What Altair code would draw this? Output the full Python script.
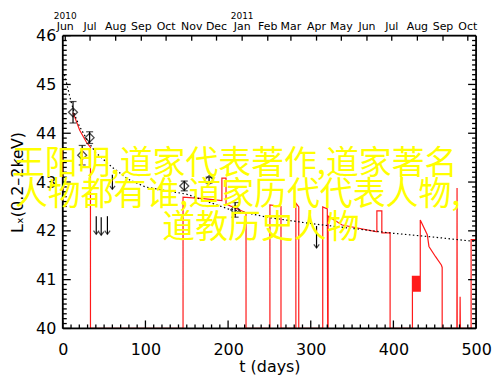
import altair as alt
import pandas as pd

# ---------------- data ----------------
# red light curve (t in days, log L_X); drops to 40 mark data gaps
red_t = [12.4, 14.5, 20.5, 28.5, 33.5, 33.5,
         145.5, 145.5, 170, 192.5, 192.5, 197.5, 197.5, 221.7, 221.7,
         250.6, 250.6, 264, 264,
         282, 282, 285.5, 285.5,
         314.5, 314.5, 320, 320.5, 321, 321, 338, 380, 380, 386, 386, 396, 396,
         423, 423, 423.5, 424, 424.5, 425, 425.5, 426, 426.5, 427, 427.5, 428,
         428.5, 429, 429.5, 430, 430.5, 431, 431.5, 432, 432.5,
         432.5, 441, 443, 451, 458, 459, 459,
         476.8, 477, 477.2,
         480.5, 480.7, 481,
         494, 494, 500]
red_L = [44.42, 44.33, 44.06, 43.82, 43.71, 40.0,
         40.0, 42.69, 42.66, 42.62, 43.08, 43.08, 42.55, 42.37, 40.0,
         40.0, 42.53, 42.50, 40.0,
         40.0, 42.57, 42.49, 40.0,
         40.0, 42.49, 42.45, 40.0, 40.0, 42.30, 42.12, 41.98, 42.41, 42.41, 41.96, 41.96, 40.0,
         40.0, 41.08, 40.75, 41.08, 40.75, 41.08, 40.75, 41.08, 40.75, 41.08, 40.75, 41.08,
         40.75, 41.08, 40.75, 41.08, 40.75, 41.08, 40.75, 41.08, 40.75,
         42.22, 41.92, 41.68, 41.47, 41.30, 41.25, 40.0,
         40.0, 42.88, 40.0,
         40.0, 40.65, 40.0,
         40.0, 41.82, 41.82]

# dotted model curve
dot_t = [2, 5, 10, 15, 20, 30, 40, 60, 80, 100, 150, 200, 250, 300, 350, 400, 450, 500]
dot_L = [45.2, 45.0, 44.65, 44.35, 44.15, 43.85, 43.6, 43.3, 43.05, 42.9, 42.75,
         42.45, 42.27, 42.15, 42.05, 41.95, 41.87, 41.78]

# detections with error bars
det_t = [12.4, 23.5, 32.5, 147, 177, 208.5]
det_L = [44.43, 43.55, 43.91, 42.92, 43.04, 42.43]
det_err = [0.22, 0.20, 0.12, 0.10, 0.06, 0.15]

# upper limits (arrows)
ul_t = [40.5, 46.5, 54.0, 60.0, 307.0]
ul_top = [42.30, 42.28, 42.30, 43.15, 42.10]
ul_bot = [41.93, 41.91, 41.93, 42.85, 41.65]

# axis labels
x_ticks = [0, 100, 200, 300, 400, 500]
y_ticks = [40, 41, 42, 43, 44, 45, 46]
month_t = [3, 33, 64, 95, 125, 156, 186, 217, 248, 276, 307, 337, 368, 398, 429, 460, 490]
month_names = ["Jun", "Jul", "Aug", "Sep", "Oct", "Nov", "Dec", "Jan", "Feb", "Mar",
               "Apr", "May", "Jun", "Jul", "Aug", "Sep", "Oct"]
year_t = [3, 217]
year_names = ["2010", "2011"]

overlay_lines = ["王阳明,道家代表著作,道家著名", "人物都有谁,道家历代代表人物,", "道教历史人物"]

# ---------------- chart ----------------
W, H = 415, 294
FONT = "DejaVu Sans"
xs = alt.Scale(domain=[0, 500], nice=False, zero=False)
ys = alt.Scale(domain=[40, 46], nice=False, zero=False)
xaxis = alt.Axis(values=x_ticks, ticks=False, domain=False, grid=False, labelFont=FONT,
                 labelFontSize=16, labelColor="black", labelPadding=13, title="t (days)",
                 titleFont=FONT, titleFontSize=16, titleFontWeight="normal", titleColor="black",
                 titlePadding=1, labelFlush=False)
yaxis = alt.Axis(values=y_ticks, ticks=False, domain=False, grid=False, labelFont=FONT,
                 labelFontSize=16, labelColor="black", labelPadding=7, title="Lₓ(0.2–2keV)",
                 titleFont=FONT, titleFontSize=16, titleFontWeight="normal", titleColor="black",
                 titlePadding=10, labelFlush=False)


def X(f="t"):
    return alt.X(f + ":Q", scale=xs, axis=xaxis)


def Y(f="L"):
    return alt.Y(f + ":Q", scale=ys, axis=yaxis)


red_df = pd.DataFrame({"i": range(len(red_t)), "t": red_t, "L": red_L})
red = alt.Chart(red_df).mark_line(color="#ff1a1a", strokeWidth=1.2).encode(
    x=X(), y=Y(), order=alt.Order("i:Q"))

dot = alt.Chart(pd.DataFrame({"t": dot_t, "L": dot_L})).mark_line(
    color="black", strokeDash=[1.5, 2.5], strokeWidth=1.2).encode(x=X(), y=Y())

det_df = pd.DataFrame({"t": det_t, "L": det_L,
                       "lo": [a - b for a, b in zip(det_L, det_err)],
                       "hi": [a + b for a, b in zip(det_L, det_err)]})
ebar = alt.Chart(det_df).mark_rule(color="black", strokeWidth=1.2).encode(
    x=X(), y=Y("lo"), y2="hi:Q")
cap_lo = alt.Chart(det_df).mark_tick(color="black", orient="horizontal", size=7, thickness=1.2).encode(
    x=X(), y=Y("lo"))
cap_hi = alt.Chart(det_df).mark_tick(color="black", orient="horizontal", size=7, thickness=1.2).encode(
    x=X(), y=Y("hi"))
dia = alt.Chart(det_df).mark_point(shape="diamond", filled=False, color="black", size=80,
                                   strokeWidth=1.3).encode(x=X(), y=Y())

ul_df = pd.DataFrame({"t": ul_t, "top": ul_top, "bot": ul_bot})
ul_line = alt.Chart(ul_df).mark_rule(color="black", strokeWidth=1.2).encode(
    x=X(), y=Y("top"), y2="bot:Q")
ul_head = alt.Chart(ul_df).mark_point(shape="M-1,-1.3L0,0L1,-1.3", filled=False, color="black",
                                      size=30, strokeWidth=1.2).encode(x=X(), y=Y("bot"))

# inward ticks
xt_major = pd.DataFrame({"t": [v for v in range(0, 501, 100)]})
xt_minor = pd.DataFrame({"t": [v for v in range(0, 501, 10) if v % 100 != 0]})
yt_major = pd.DataFrame({"L": [float(v) for v in range(40, 47)]})
yt_minor = pd.DataFrame({"L": [40 + k / 10 for k in range(0, 61) if k % 10 != 0]})
mt = pd.DataFrame({"t": month_t, "name": month_names})
yr = pd.DataFrame({"t": year_t, "name": year_names})

TK = dict(color="black", strokeWidth=1.3)
ticks = [
    alt.Chart(xt_major).mark_rule(**TK).encode(x=X(), y=alt.value(H), y2=alt.value(H - 8)),
    alt.Chart(xt_minor).mark_rule(**TK).encode(x=X(), y=alt.value(H), y2=alt.value(H - 4)),
    alt.Chart(mt).mark_rule(**TK).encode(x=X(), y=alt.value(0), y2=alt.value(5)),
    alt.Chart(yt_major).mark_rule(**TK).encode(y=Y(), x=alt.value(0), x2=alt.value(8)),
    alt.Chart(yt_minor).mark_rule(**TK).encode(y=Y(), x=alt.value(0), x2=alt.value(4)),
    alt.Chart(yt_major).mark_rule(**TK).encode(y=Y(), x=alt.value(W), x2=alt.value(W - 8)),
    alt.Chart(yt_minor).mark_rule(**TK).encode(y=Y(), x=alt.value(W), x2=alt.value(W - 4)),
]

one = pd.DataFrame({"a": [0]})
FR = dict(color="black", strokeWidth=1.8)
frame = [
    alt.Chart(one).mark_rule(**FR).encode(x=alt.value(0), x2=alt.value(W), y=alt.value(0)),
    alt.Chart(one).mark_rule(**FR).encode(x=alt.value(0), x2=alt.value(W), y=alt.value(H)),
    alt.Chart(one).mark_rule(**FR).encode(x=alt.value(0), y=alt.value(0), y2=alt.value(H)),
    alt.Chart(one).mark_rule(**FR).encode(x=alt.value(W), y=alt.value(0), y2=alt.value(H)),
]

months = alt.Chart(mt).mark_text(font=FONT, fontSize=11, color="black", baseline="middle").encode(
    x=X(), y=alt.value(-9), text="name:N")
years = alt.Chart(yr).mark_text(font=FONT, fontSize=9, color="black", baseline="middle").encode(
    x=X(), y=alt.value(-20), text="name:N")

OV = dict(font="Noto Sans CJK SC", fontSize=33, color="#ffff00", align="left", baseline="middle")
ov = [
    alt.Chart(pd.DataFrame({"txt": [overlay_lines[0]]})).mark_text(**OV).encode(
        x=alt.value(-51), y=alt.value(129), text="txt:N"),
    alt.Chart(pd.DataFrame({"txt": [overlay_lines[1]]})).mark_text(**OV).encode(
        x=alt.value(-48), y=alt.value(160), text="txt:N"),
    alt.Chart(pd.DataFrame({"txt": [overlay_lines[2]]})).mark_text(**OV).encode(
        x=alt.value(100), y=alt.value(193), text="txt:N"),
]

chart = alt.layer(red, dot, ebar, cap_lo, cap_hi, dia, ul_line, ul_head, *ticks, *frame,
                  months, years, *ov).properties(
    width=W, height=H, autosize="none",
    padding={"left": 55, "top": 27, "right": 16, "bottom": 48},
).configure_view(stroke=None).configure(background="white")

chart.save("out.html", embed_options={"renderer": "svg", "actions": False})
